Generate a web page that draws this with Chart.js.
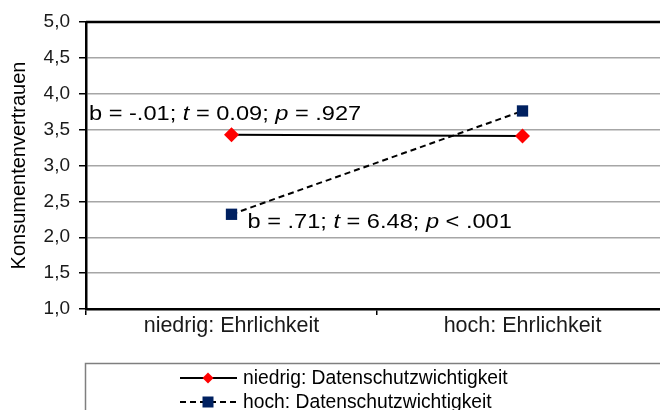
<!DOCTYPE html>
<html>
<head>
<meta charset="utf-8">
<script src="https://cdn.jsdelivr.net/npm/chart.js@4.4.1/dist/chart.umd.min.js"></script>
<style>
  html, body { margin:0; padding:0; background:#fff; }
  #wrap { width:660px; height:410px; overflow:hidden; position:relative; }
  #chart { position:absolute; left:0; top:0; }
</style>
</head>
<body>
<div id="wrap"><canvas id="chart" width="700" height="410"></canvas></div>
<script>
// data
const categories = ['niedrig: Ehrlichkeit', 'hoch: Ehrlichkeit']
const lowPrivacy = [3.43, 3.41]
const highPrivacy = [2.32, 3.76]
const seriesNames = ['niedrig: Datenschutzwichtigkeit', 'hoch: Datenschutzwichtigkeit']
const yTitle = 'Konsumentenvertrauen'
const yMin = 1, yMax = 5, yStep = 0.5

// slope labels: [text, italic] pieces, anchored at a y value
const note1 = [['b = -.01; ', false], ['t', true], [' = 0.09; ', false], ['p', true], [' = .927', false]]
const note2 = [['b = .71; ', false], ['t', true], [' = 6.48; ', false], ['p', true], [' < .001', false]]
const note1Y = 3.63
const note2Y = 2.13

const FONT = "'Liberation Sans', Arial, sans-serif"

function drawNote(ctx, parts, x, y){
    ctx.save()
    ctx.translate(x, y)
    ctx.scale(1.21, 1)
    ctx.fillStyle = '#000'
    ctx.textBaseline = 'alphabetic'
    ctx.textAlign = 'left'
    let cx = 0
    for (const [txt, it] of parts){
        ctx.font = (it ? 'italic ' : '') + '19.5px ' + FONT
        ctx.fillText(txt, cx, 0)
        cx += ctx.measureText(txt).width
    }
    ctx.restore()
}

const framePlugin = {
    id:'frame',
    afterDraw(chart){
        const c = chart.ctx
        const a = chart.chartArea
        const ys = chart.scales.y
        const xs = chart.scales.x
        // top edge of plot area
        c.save()
        c.strokeStyle = '#000'
        c.lineWidth = 2.5
        c.beginPath()
        c.moveTo(a.left, a.top)
        c.lineTo(a.right, a.top)
        c.stroke()
        c.restore()

        // slope notes
        drawNote(c, note1, a.left + 3, ys.getPixelForValue(note1Y))
        drawNote(c, note2, xs.getPixelForValue(0) + 16, ys.getPixelForValue(note2Y))

        // legend box
        c.save()
        c.strokeStyle = '#7f7f7f'
        c.lineWidth = 1.5
        c.strokeRect(85.5, 363.5, 700, 80)
        const ds = chart.data.datasets
        for (let i = 0; i < ds.length; i++){
            const y = 378 + i * 24
            c.strokeStyle = '#000'
            c.lineWidth = 2
            c.setLineDash(ds[i].borderDash || [])
            c.beginPath()
            c.moveTo(180, y)
            c.lineTo(237, y)
            c.stroke()
            c.setLineDash([])
            c.fillStyle = ds[i].pointBackgroundColor
            const r = 5.5
            c.beginPath()
            if (ds[i].pointStyle == 'rectRot'){
                c.moveTo(208 - r, y); c.lineTo(208, y - r); c.lineTo(208 + r, y); c.lineTo(208, y + r)
            } else {
                c.rect(208 - r, y - r, 2 * r, 2 * r)
            }
            c.closePath()
            c.fill()
            c.fillStyle = '#000'
            c.font = '19.3px ' + FONT
            c.textBaseline = 'middle'
            c.fillText(ds[i].label, 243, y + 1)
        }
        c.restore()
    }
}

const data = {
    labels:categories,
    datasets:[
        {
            label:seriesNames[0],
            data:lowPrivacy,
            borderColor:'#000',
            borderWidth:2,
            pointStyle:'rectRot',
            pointRadius:7.5,
            pointBackgroundColor:'#ff0000',
            pointBorderColor:'#ff0000',
            pointBorderWidth:0,
            tension:0
        },
        {
            label:seriesNames[1],
            data:highPrivacy,
            borderColor:'#000',
            borderWidth:2,
            borderDash:[6,4],
            pointStyle:'rect',
            pointRadius:8,
            pointBackgroundColor:'#002060',
            pointBorderColor:'#002060',
            pointBorderWidth:0,
            tension:0
        }
    ]
}

const config = {
    type:'line',
    data:data,
    options:{
        responsive:false,
        animation:false,
        layout:{ padding:{ left:0, top:22, right:32, bottom:61 } },
        plugins:{
            legend:{ display:false },
            tooltip:{ enabled:false }
        },
        scales:{
            x:{
                offset:true,
                grid:{ offset:true, drawOnChartArea:false, drawTicks:true, tickLength:6, tickColor:'#000', lineWidth:1.5 },
                border:{ color:'#000', width:2.5 },
                ticks:{ color:'#1a1a1a', font:{ family:FONT, size:21.5 }, padding:-2, maxRotation:0 },
                afterFit(s){ s.height = 40 }
            },
            y:{
                min:yMin, max:yMax,
                grid:{ color:'#a6a6a6', lineWidth:1.5, tickColor:'#000', tickLength:7 },
                border:{ color:'#000', width:2.5 },
                ticks:{
                    stepSize:yStep,
                    color:'#1a1a1a',
                    padding:9,
                    font:{ family:FONT, size:19 },
                    callback:(v) => v.toFixed(1).replace('.', ',')
                },
                title:{ display:true, text:yTitle, color:'#000', font:{ family:FONT, size:20 }, padding:{ top:7, bottom:0 } },
                afterFit(s){ s.width = 86 }
            }
        }
    },
    plugins:[framePlugin]
}

window.onload = () => {
    new Chart(document.getElementById('chart'), config)
}
</script>
</body>
</html>
